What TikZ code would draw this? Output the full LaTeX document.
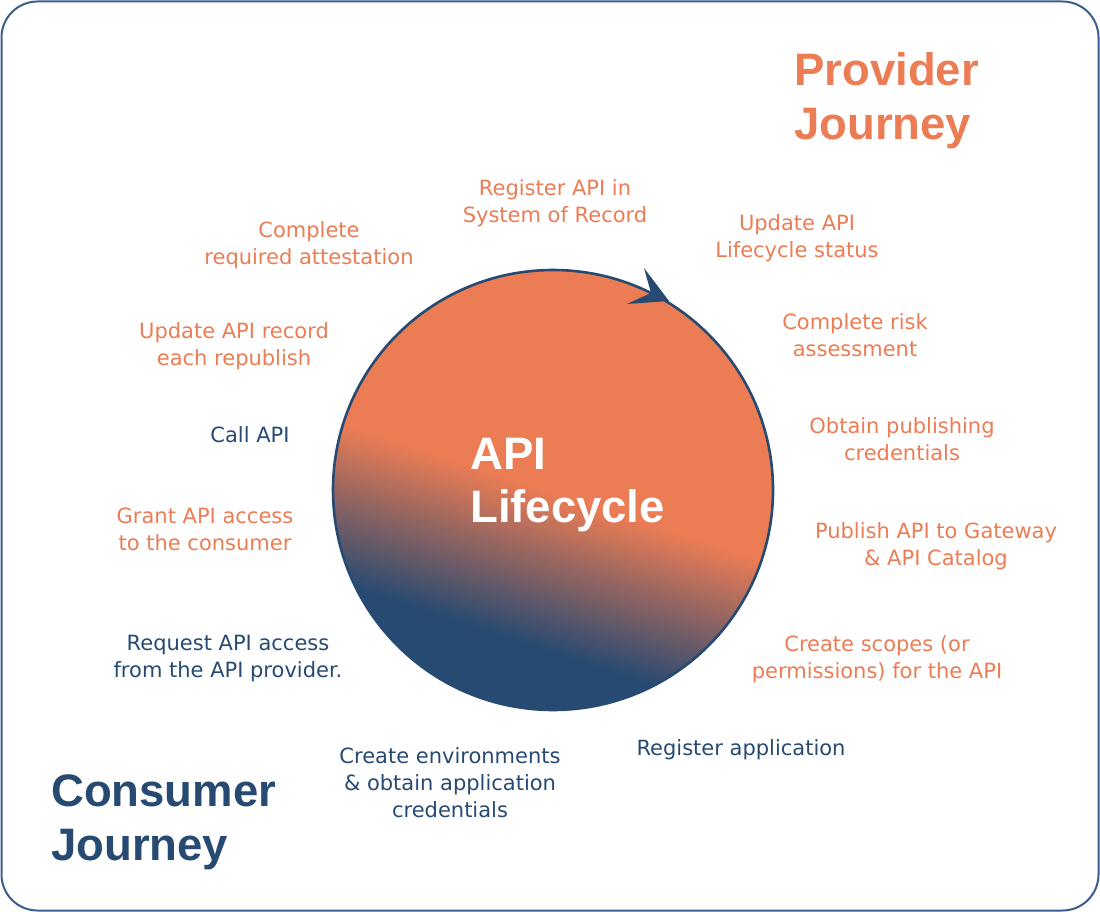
\documentclass[tikz,border=0pt]{standalone}
\usepackage{fontspec}
\setmainfont{DejaVu Sans}
\newfontfamily\headfont{Liberation Sans}
\usetikzlibrary{calc}
\definecolor{orng}{HTML}{EC7C54}
\definecolor{navy}{HTML}{274A72}
\definecolor{framec}{HTML}{3A5E8C}
\begin{document}
\begin{tikzpicture}[x=1pt,y=-1pt,
  lbl/.style={anchor=north, align=center, inner sep=0pt, font=\fontsize{21}{27}\selectfont},
  prov/.style={lbl, text=orng},
  cons/.style={lbl, text=navy},
  head/.style={anchor=north west, align=left, inner sep=0pt, font=\headfont\bfseries\fontsize{45.5}{54}\selectfont},
]
\useasboundingbox (0,0) rectangle (1100,912);
\draw[framec, line width=2pt, rounded corners=36pt] (1.5,1.5) rectangle (1098.5,910.5);

% circle with gradient
\coordinate (C) at (553,490);
\begin{scope}
  \clip (C) circle[radius=220];
  \fill[orng] (C) circle[radius=225];
  \begin{scope}[transform canvas={rotate around={-18:(C)}}]
    \fill[navy] ($(C)+(-320,150)$) rectangle ($(C)+(320,330)$);
    \shade[top color=orng, bottom color=navy] ($(C)+(-320,2)$) rectangle ($(C)+(320,155)$);
  \end{scope}
\end{scope}
\draw[navy, line width=2.6pt] (C) circle[radius=220];
\fill[navy] (669,301) -- (644,268) -- (651,293) -- (627,304) -- cycle;

\node[head, text=white, font=\headfont\bfseries\fontsize{45.5}{53}\selectfont] (life) at (470,438) {API\\Lifecycle};

\node[head, text=orng] (provider) at (794,52) {Provider\\Journey};
\node[head, text=navy] (consumer) at (51,775) {Consumer\\Journey};

\node[prov] (reg) at (555,179) {Register API in\\System of Record};
\node[prov] (upd) at (797,214) {Update API\\Lifecycle status};
\node[prov] (att) at (309,221) {Complete\\required attestation};
\node[prov] (rec) at (234,322) {Update API record\\each republish};
\node[prov] (risk) at (855,313) {Complete risk\\assessment};
\node[prov] (cred) at (902,417) {Obtain publishing\\credentials};
\node[cons] (call) at (250,426) {Call API};
\node[prov] (grant) at (205,508) {Grant API access\\to the consumer};
\node[prov] (pub) at (936,522) {Publish API to Gateway\\\& API Catalog};
\node[cons] (req) at (228,635) {Request API access\\from the API provider.};
\node[prov] (scope) at (877,635) {Create scopes (or\\permissions) for the API};
\node[cons] (app) at (741,739) {Register application};
\node[cons] (env) at (450,747) {Create environments\\\& obtain application\\credentials};
\end{tikzpicture}
\end{document}
